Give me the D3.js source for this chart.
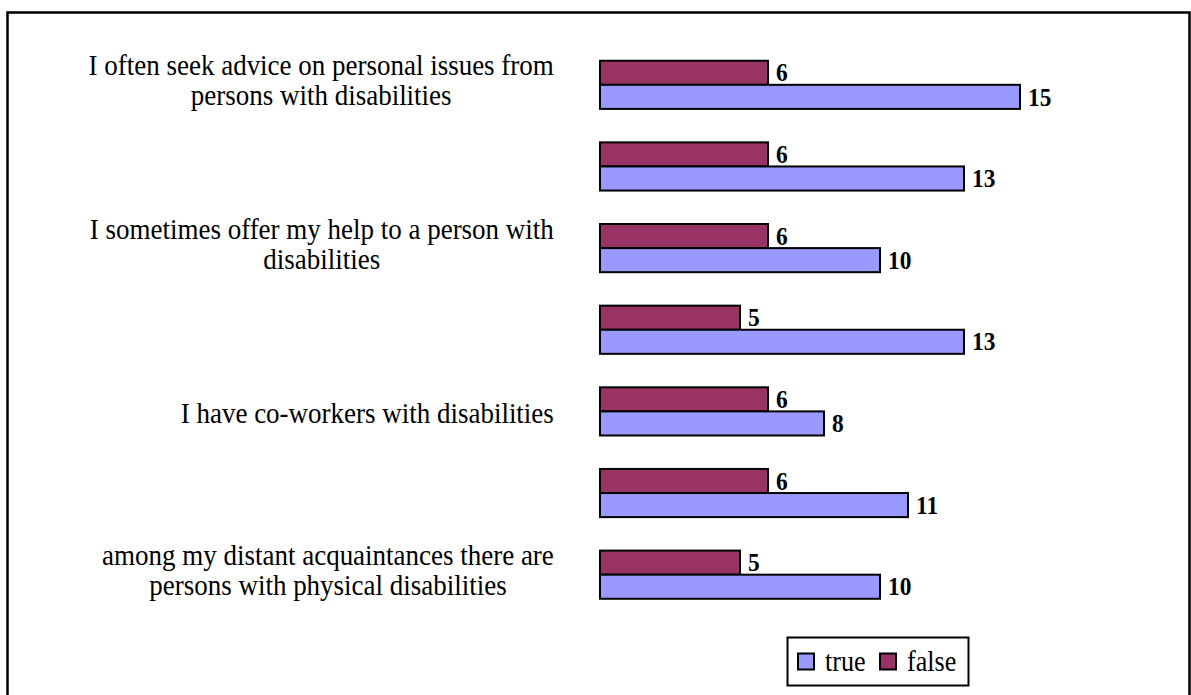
<!DOCTYPE html>
<html>
<head>
<meta charset="utf-8">
<script src="https://cdn.jsdelivr.net/npm/d3@7"></script>
<style>
  html, body { margin: 0; padding: 0; background: #fff; }
  svg { display: block; }
  text { font-family: "Liberation Serif", "Times New Roman", serif; fill: #000; }
</style>
</head>
<body>
<svg id="chart" width="1191" height="695"></svg>
<script>
// ---- data (top to bottom, as shown) ----
const categories = [
  "I often seek advice on personal issues from persons with disabilities",
  "",
  "I sometimes offer my help to a person with disabilities",
  "",
  "I have co-workers with disabilities",
  "",
  "among my distant acquaintances there are persons with physical disabilities"
];
const trueValues  = [15, 13, 10, 13, 8, 11, 10];
const falseValues = [6, 6, 6, 5, 6, 6, 5];
const seriesNames = ["true", "false"];
const seriesColors = ["#9999FF", "#993366"];

// ---- layout ----
const W = 1191, H = 695;
const svg = d3.select("#chart");
const SX = 0.9; // horizontal text compression to mimic original rendering
const labelFont = 30;
const valueFont = 26;

// frame
svg.append("rect")
  .attr("x", 7.5).attr("y", 12.5)
  .attr("width", 1182).attr("height", 700)
  .attr("fill", "none").attr("stroke", "#000").attr("stroke-width", 2.5);

const x = d3.scaleLinear().domain([0, 20]).range([600, 1160]);
const y = d3.scaleBand().domain(d3.range(categories.length))
  .range([44, 615.5]).paddingInner(0.41).paddingOuter(0.205);
const sub = d3.scaleBand().domain(["false", "true"]).range([0, y.bandwidth()]);

const rows = categories.map((c, i) => ({ i, cat: c, t: trueValues[i], f: falseValues[i] }));

const g = svg.append("g");
const group = g.selectAll("g.row").data(rows).join("g").attr("class", "row")
  .attr("transform", d => `translate(0,${y(d.i)})`);

function addBar(sel, key, valFn, color) {
  sel.append("rect")
    .attr("x", x(0))
    .attr("y", sub(key))
    .attr("width", d => x(valFn(d)) - x(0))
    .attr("height", sub.bandwidth())
    .attr("fill", color)
    .attr("stroke", "#000").attr("stroke-width", 2);
  sel.append("g")
    .attr("transform", d => `translate(${x(valFn(d)) + 8},${sub(key) + sub.bandwidth() / 2 + 8.7}) scale(${SX},1)`)
    .append("text")
    .attr("font-size", valueFont).attr("font-weight", "bold")
    .text(d => valFn(d));
}
addBar(group, "false", d => d.f, seriesColors[1]);
addBar(group, "true", d => d.t, seriesColors[0]);

// category labels with wrapping
const maxW = 490;
const labelRight = 554;
const measure = svg.append("text").attr("font-size", labelFont).attr("visibility", "hidden");
function width(s) { measure.text(s); return measure.node().getComputedTextLength() * SX; }

rows.forEach(d => {
  if (!d.cat) return;
  const words = d.cat.split(" ");
  const lines = [];
  let cur = "";
  words.forEach(w => {
    const test = cur ? cur + " " + w : w;
    if (width(test) > maxW && cur) { lines.push(cur); cur = w; } else cur = test;
  });
  if (cur) lines.push(cur);
  const blockW = d3.max(lines, width);
  const cx = labelRight - blockW / 2;
  const center = y(d.i) + y.bandwidth() / 2;
  const base0 = center + 11.4 - (lines.length - 1) * 21;
  lines.forEach((ln, k) => {
    svg.append("g")
      .attr("transform", `translate(${cx},${base0 + k * 30}) scale(${SX},1)`)
      .append("text")
      .attr("text-anchor", "middle")
      .attr("font-size", labelFont)
      .text(ln);
  });
});
measure.remove();

// legend
const leg = svg.append("g");
leg.append("rect").attr("x", 787.5).attr("y", 637.5).attr("width", 181).attr("height", 48)
  .attr("fill", "#fff").attr("stroke", "#000").attr("stroke-width", 2);
const legX = [798, 880];
seriesNames.forEach((s, i) => {
  leg.append("rect").attr("x", legX[i]).attr("y", 653.5).attr("width", 16).attr("height", 16)
    .attr("fill", seriesColors[i]).attr("stroke", "#000").attr("stroke-width", 2);
  leg.append("g").attr("transform", `translate(${legX[i] + 27},${670.5}) scale(${SX},1)`)
    .append("text").attr("font-size", 29).text(s);
});
</script>
</body>
</html>
